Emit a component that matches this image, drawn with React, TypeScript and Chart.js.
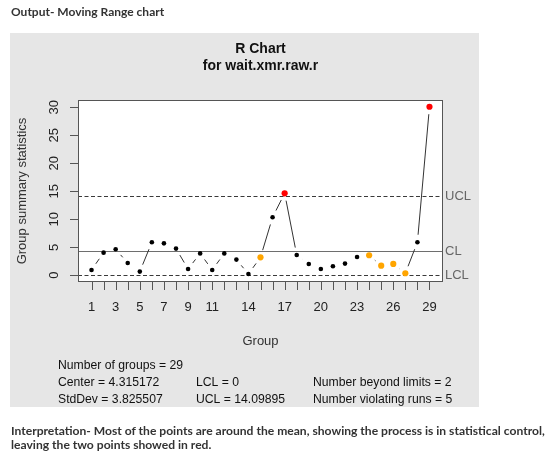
import React, { useEffect, useRef } from "react";
import { Chart, registerables } from "chart.js";

Chart.register(...registerables);

// ---------- data ----------
const groupNumbers = [
  1, 2, 3, 4, 5, 6, 7, 8, 9, 10, 11, 12, 13, 14, 15, 16, 17, 18, 19, 20, 21, 22, 23, 24, 25, 26, 27, 28, 29,
];
const rangeValues = [
  0.95, 4.04, 4.64, 2.2, 0.65, 5.9, 5.7, 4.76, 1.12, 3.9, 0.95, 3.9, 2.8, 0.23, 3.2, 10.36, 14.64, 3.63, 2.02,
  1.12, 1.6, 2.08, 3.27, 3.57, 1.72, 2.02, 0.36, 5.9, 30.1,
];
const centerLine = 4.315172;
const lowerLimit = 0;
const upperLimit = 14.09895;
const runViolationGroups = [15, 24, 25, 26, 27];
const yTickValues = [0, 5, 10, 15, 20, 25, 30];
const xTickLabelValues = [1, 3, 5, 7, 9, 11, 14, 17, 20, 23, 26, 29];
const limitLabels = ["UCL", "CL", "LCL"];
const chartTitleLines = ["R Chart", "for wait.xmr.raw.r"];
const xAxisTitle = "Group";
const yAxisTitle = "Group summary statistics";
const statsColumn1 = ["Number of groups = 29", "Center = 4.315172", "StdDev = 3.825507"];
const statsColumn2 = ["", "LCL = 0", "UCL = 14.09895"];
const statsColumn3 = ["", "Number beyond limits = 2", "Number violating runs = 5"];
const headerText = "Output- Moving Range chart";
const interpretationLines = [
  "Interpretation- Most of the points are around the mean, showing the process is in statistical control,",
  "leaving the two points showed in red.",
];

// ---------- helpers ----------
const FONT = "'Liberation Sans', Arial, sans-serif";

const yLow = Math.min(...rangeValues, lowerLimit);
const yHigh = Math.max(...rangeValues, upperLimit);
const yPad = (yHigh - yLow) * 0.04;
const xLow = Math.min(...groupNumbers);
const xHigh = Math.max(...groupNumbers);
const xPad = (xHigh - xLow) * 0.04;

const pointColor = (g: number, v: number) =>
  v > upperLimit || v < lowerLimit ? "#ff0000" : runViolationGroups.includes(g) ? "#ffa500" : "#000000";
const pointSize = (g: number, v: number) =>
  v > upperLimit || v < lowerLimit || runViolationGroups.includes(g) ? 3.1 : 2.3;

const rChartPlugin = {
  id: "rChartDecor",
  beforeDraw(chart: any) {
    const ctx = chart.ctx;
    const { left, top, right, bottom } = chart.chartArea;
    ctx.save();
    ctx.fillStyle = "#ffffff";
    ctx.fillRect(0, 0, chart.width, chart.height);
    ctx.fillStyle = "#e6e6e6";
    ctx.fillRect(10, 33, 469, 374);
    ctx.fillStyle = "#ffffff";
    ctx.fillRect(left, top, right - left, bottom - top);
    ctx.restore();
  },
  beforeDatasetsDraw(chart: any) {
    const ctx = chart.ctx;
    const xs = chart.scales.x;
    const ys = chart.scales.y;
    const { left, right } = chart.chartArea;
    ctx.save();
    // limit lines
    const limits = [upperLimit, centerLine, lowerLimit];
    limits.forEach((v, i) => {
      const y = Math.round(ys.getPixelForValue(v)) + 0.5;
      ctx.beginPath();
      ctx.lineWidth = 1;
      if (i === 1) {
        ctx.setLineDash([]);
        ctx.strokeStyle = "#6e6e6e";
      } else {
        ctx.setLineDash([4, 2.5]);
        ctx.strokeStyle = "#3a3a3a";
      }
      ctx.moveTo(left, y);
      ctx.lineTo(right, y);
      ctx.stroke();
    });
    ctx.setLineDash([]);
    // R type="b" connecting segments with gaps around points
    const gap = 7.5;
    ctx.strokeStyle = "#333333";
    ctx.lineWidth = 1;
    for (let i = 0; i < groupNumbers.length - 1; i++) {
      const x1 = xs.getPixelForValue(groupNumbers[i]);
      const y1 = ys.getPixelForValue(rangeValues[i]);
      const x2 = xs.getPixelForValue(groupNumbers[i + 1]);
      const y2 = ys.getPixelForValue(rangeValues[i + 1]);
      const dx = x2 - x1;
      const dy = y2 - y1;
      const d = Math.sqrt(dx * dx + dy * dy);
      if (d <= 2 * gap) continue;
      const ux = dx / d;
      const uy = dy / d;
      ctx.beginPath();
      ctx.moveTo(x1 + ux * gap, y1 + uy * gap);
      ctx.lineTo(x2 - ux * gap, y2 - uy * gap);
      ctx.stroke();
    }
    ctx.restore();
  },
  afterDraw(chart: any) {
    const ctx = chart.ctx;
    const xs = chart.scales.x;
    const ys = chart.scales.y;
    const { left, top, right, bottom } = chart.chartArea;
    const midX = (left + right) / 2;
    ctx.save();
    // box
    ctx.strokeStyle = "#555555";
    ctx.lineWidth = 1;
    ctx.strokeRect(left + 0.5, top + 0.5, right - left - 1, bottom - top - 1);
    // x ticks
    ctx.beginPath();
    groupNumbers.forEach((g) => {
      const x = Math.round(xs.getPixelForValue(g)) + 0.5;
      ctx.moveTo(x, bottom);
      ctx.lineTo(x, bottom + 8);
    });
    // y ticks
    yTickValues.forEach((v) => {
      const y = Math.round(ys.getPixelForValue(v)) + 0.5;
      ctx.moveTo(left - 8, y);
      ctx.lineTo(left, y);
    });
    ctx.stroke();
    // x tick labels
    ctx.fillStyle = "#222222";
    ctx.font = `13px ${FONT}`;
    ctx.textAlign = "center";
    ctx.textBaseline = "middle";
    xTickLabelValues.forEach((g) => {
      ctx.fillText(String(g), xs.getPixelForValue(g), bottom + 25);
    });
    // y tick labels (rotated)
    yTickValues.forEach((v) => {
      ctx.save();
      ctx.translate(54, ys.getPixelForValue(v));
      ctx.rotate(-Math.PI / 2);
      ctx.fillText(String(v), 0, 0);
      ctx.restore();
    });
    // axis titles
    ctx.fillStyle = "#333333";
    ctx.fillText(xAxisTitle, midX, 341.5);
    ctx.save();
    ctx.translate(22.5, (top + bottom) / 2);
    ctx.rotate(-Math.PI / 2);
    ctx.fillText(yAxisTitle, 0, 0);
    ctx.restore();
    // main title
    ctx.fillStyle = "#111111";
    ctx.font = `bold 14px ${FONT}`;
    ctx.fillText(chartTitleLines[0], midX, 49.5);
    ctx.fillText(chartTitleLines[1], midX, 66.5);
    // limit labels
    ctx.font = `13px ${FONT}`;
    ctx.fillStyle = "#666666";
    ctx.textAlign = "left";
    [upperLimit, centerLine, lowerLimit].forEach((v, i) => {
      ctx.fillText(limitLabels[i], right + 2, ys.getPixelForValue(v) + 0.5);
    });
    // statistics
    ctx.font = `12.2px ${FONT}`;
    ctx.fillStyle = "#111111";
    const rowsY = [366, 383, 399.5];
    const colsX = [58, 196, 313];
    [statsColumn1, statsColumn2, statsColumn3].forEach((col, c) => {
      col.forEach((t, r) => {
        if (t) ctx.fillText(t, colsX[c], rowsY[r]);
      });
    });
    ctx.restore();
  },
};

export default function App() {
  const canvasRef = useRef<HTMLCanvasElement | null>(null);

  useEffect(() => {
    if (!canvasRef.current) return;
    const points = groupNumbers.map((g, i) => ({ x: g, y: rangeValues[i] }));
    const chart = new Chart(canvasRef.current, {
      type: "scatter",
      data: {
        datasets: [
          {
            data: points,
            pointBackgroundColor: groupNumbers.map((g, i) => pointColor(g, rangeValues[i])),
            pointBorderWidth: 0,
            pointRadius: groupNumbers.map((g, i) => pointSize(g, rangeValues[i])),
            pointHoverRadius: groupNumbers.map((g, i) => pointSize(g, rangeValues[i])),
            showLine: false,
          },
        ],
      },
      options: {
        animation: false,
        responsive: false,
        devicePixelRatio: 1,
        layout: { padding: { left: 78, top: 100, right: 117, bottom: 184 } },
        plugins: { legend: { display: false }, tooltip: { enabled: false }, title: { display: false } },
        scales: {
          x: { type: "linear", min: xLow - xPad, max: xHigh + xPad, display: false },
          y: { type: "linear", min: yLow - yPad, max: yHigh + yPad, display: false },
        },
      },
      plugins: [rChartPlugin],
    });
    return () => chart.destroy();
  }, []);

  const textStyle: React.CSSProperties = {
    position: "absolute",
    left: 11,
    whiteSpace: "nowrap",
    fontFamily: "Lato, 'Open Sans', sans-serif",
    fontWeight: 700,
    color: "#333333",
    margin: 0,
    lineHeight: 1,
  };

  return (
    <div style={{ position: "absolute", left: 0, top: 0, width: 560, height: 466, background: "#fff", overflow: "hidden" }}>
      <canvas ref={canvasRef} width={560} height={466} style={{ position: "absolute", left: 0, top: 0, display: "block" }} />
      <div style={{ ...textStyle, top: 6, fontSize: 12 }}>{headerText}</div>
      <div style={{ ...textStyle, top: 425, fontSize: 12.1 }}>{interpretationLines[0]}</div>
      <div style={{ ...textStyle, top: 439, fontSize: 12.1 }}>{interpretationLines[1]}</div>
    </div>
  );
}
